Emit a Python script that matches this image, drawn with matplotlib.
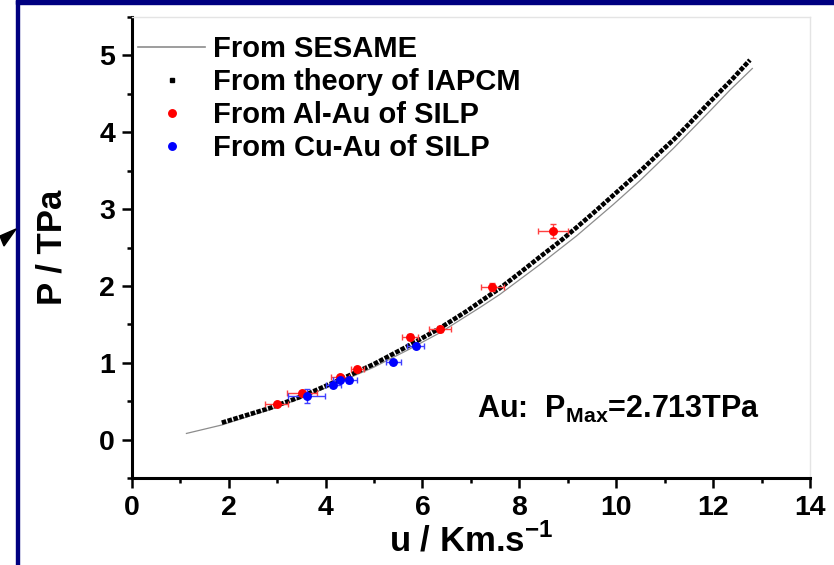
import matplotlib
matplotlib.use('Agg')
import matplotlib.pyplot as plt
from matplotlib.lines import Line2D
from matplotlib.patches import Rectangle, Polygon
from matplotlib.ticker import MultipleLocator

# SESAME Hugoniot (thin gray line)
sesame_u = [1.13, 1.86, 2.85, 3.54, 4.30, 4.99, 5.68, 6.36, 7.19, 7.60, 8.43,
            9.18, 9.94, 10.49, 11.18, 11.94, 12.35, 12.81]
sesame_p = [0.08, 0.19, 0.39, 0.55, 0.75, 0.94, 1.16, 1.39, 1.72, 1.89, 2.28,
            2.65, 3.06, 3.37, 3.79, 4.28, 4.55, 4.83]

# theory of IAPCM (dense black squares)
iapcm_u = [1.86, 2.85, 3.54, 4.30, 4.99, 5.68, 6.36, 6.91, 7.25, 7.60, 8.01,
           8.43, 8.84, 9.18, 9.53, 9.94, 10.49, 10.87, 11.18, 11.52, 11.94,
           12.35, 12.76]
iapcm_p = [0.22, 0.41, 0.57, 0.78, 0.98, 1.21, 1.45, 1.67, 1.82, 1.97, 2.17,
           2.38, 2.58, 2.76, 2.95, 3.18, 3.49, 3.72, 3.90, 4.12, 4.40,
           4.66, 4.94]

# Al-Au of SILP
alau_u = [2.99, 3.52, 4.30, 4.66, 5.74, 6.36, 7.44, 8.70]
alau_p = [0.46, 0.60, 0.81, 0.92, 1.33, 1.44, 1.99, 2.71]
alau_uerr = [0.24, 0.31, 0.19, 0.14, 0.17, 0.22, 0.24, 0.31]
alau_perr = [0.02, 0.03, 0.03, 0.03, 0.04, 0.04, 0.05, 0.09]

# Cu-Au of SILP
cuau_u = [3.61, 4.16, 4.30, 4.49, 5.40, 5.86]
cuau_p = [0.57, 0.71, 0.78, 0.77, 1.01, 1.22]
cuau_uerr = [0.38, 0.15, 0.15, 0.16, 0.15, 0.17]
cuau_perr = [0.09, 0.03, 0.03, 0.03, 0.03, 0.03]

plt.rcParams['font.family'] = ['Liberation Sans', 'DejaVu Sans']
plt.rcParams['font.weight'] = 'bold'
plt.rcParams['mathtext.fontset'] = 'custom'
plt.rcParams['mathtext.rm'] = 'Liberation Sans:bold'
plt.rcParams['mathtext.bf'] = 'Liberation Sans:bold'

W, H = 834, 565
fig = plt.figure(figsize=(W / 100, H / 100), dpi=100)
ax = fig.add_axes([131.7 / W, 1 - 478 / H, (810 - 131.7) / W, (478 - 17) / H])

ax.plot(sesame_u, sesame_p, color='#8c8c8c', lw=0.9, zorder=2)
ax.plot(iapcm_u, iapcm_p, color='black', lw=3.3, linestyle=(0, (1.0, 0.32)),
        dash_capstyle='butt', zorder=3)

ax.errorbar(alau_u, alau_p, xerr=alau_uerr, yerr=alau_perr, fmt='o',
            color='red', ecolor='#ff4040', ms=5.4, elinewidth=1.0,
            capsize=2, capthick=1.0, zorder=4)
ax.errorbar(cuau_u, cuau_p, xerr=cuau_uerr, yerr=cuau_perr, fmt='o',
            color='blue', ecolor='#4040ff', ms=5.4, elinewidth=1.0,
            capsize=2, capthick=1.0, zorder=4)

ax.set_xlim(0, 14)
ax.set_ylim(-0.5, 5.5)
ax.xaxis.set_major_locator(MultipleLocator(2))
ax.xaxis.set_minor_locator(MultipleLocator(1))
ax.yaxis.set_minor_locator(MultipleLocator(0.5))
ax.set_yticks([0, 1, 2, 3, 4, 5])

for side in ['left', 'bottom']:
    ax.spines[side].set_linewidth(2.2)
for side in ['top', 'right']:
    ax.spines[side].set_linewidth(1.0)
    ax.spines[side].set_color('#e4e4e4')

ax.tick_params(which='major', direction='out', length=7, width=1.8,
               labelsize=20.5, pad=5)
ax.tick_params(which='minor', direction='out', length=3.5, width=1.8)
for lab in ax.get_xticklabels() + ax.get_yticklabels():
    lab.set_fontweight('bold')

ax.set_xlabel('u / Km.s$^{-1}$', fontsize=25, fontweight='bold', labelpad=2)
ax.set_ylabel('P / TPa', fontsize=25, fontweight='bold', labelpad=22)

handles = [
    Line2D([], [], color='#8c8c8c', lw=1.2),
    Line2D([], [], color='black', marker='s', ms=3.4, ls='none'),
    Line2D([], [], color='red', marker='o', ms=5.4, ls='none'),
    Line2D([], [], color='blue', marker='o', ms=5.4, ls='none'),
]
labels = ['From SESAME', 'From theory of IAPCM', 'From Al-Au of SILP',
          'From Cu-Au of SILP']
ax.legend(handles, labels, loc='upper left', frameon=False,
          bbox_to_anchor=(138 / W, 1 - 35 / H), bbox_transform=fig.transFigure,
          borderpad=0, borderaxespad=0, handlelength=2.3, handletextpad=0.27,
          labelspacing=0.17, prop={'size': 21, 'weight': 'bold'})

ax.text(7.12, 0.28, 'Au:  P$_{\\mathbf{Max}}$=2.713TPa', fontsize=22,
        fontweight='bold', ha='left', va='baseline')

# frame decorations of the slide
fig.patches.append(Rectangle((16 / W, 0), 3 / W, 1, transform=fig.transFigure,
                             color='#000080', zorder=10))
fig.patches.append(Rectangle((16 / W, 1 - 4 / H), 1 - 16 / W, 4 / H,
                             transform=fig.transFigure, color='#000080',
                             zorder=10))
fig.patches.append(Polygon([(16 / W, 1 - 229 / H), (0, 1 - 236 / H),
                            (4 / W, 1 - 246 / H)], closed=True,
                           transform=fig.transFigure, color='black', zorder=10))

fig.savefig('out.png', dpi=100)
